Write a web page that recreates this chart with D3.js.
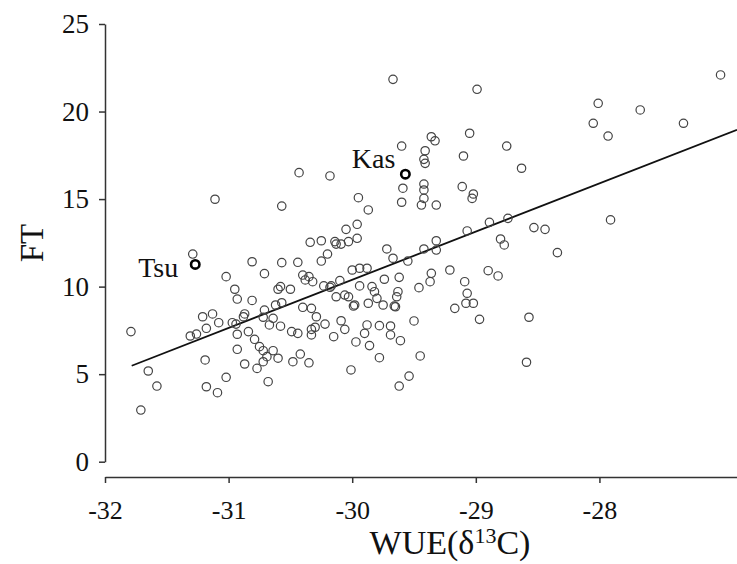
<!DOCTYPE html>
<html><head><meta charset="utf-8">
<script src="https://cdn.jsdelivr.net/npm/d3@7"></script>
<style>body{margin:0;background:#fff}svg{display:block}</style>
</head><body>
<svg id="c" width="737" height="564"></svg>
<script>
const wue = [-31.11,-30.57,-31.29,-30.81,-30.71,-31.02,-30.95,-30.57,-30.60,-30.93,-30.81,-30.62,-30.71,-31.21,-31.13,-31.08,-30.97,-30.87,-30.88,-30.94,-30.72,-30.64,-30.67,-30.58,-31.79,-31.31,-31.26,-31.18,-30.93,-30.84,-30.79,-30.75,-30.72,-30.64,-30.93,-30.69,-30.72,-30.60,-30.77,-30.87,-31.19,-31.65,-31.02,-31.58,-31.18,-31.09,-30.68,-31.71,
-29.95,-29.87,-29.59,-29.60,-29.42,-29.42,-29.42,-29.44,-29.32,-29.96,-30.05,-30.34,-30.25,-30.14,-30.13,-30.09,-30.03,-29.96,-30.44,-30.25,-30.20,-29.72,-29.67,-29.55,-29.42,-29.32,-29.32,-30.00,-29.94,-29.88,-30.40,-30.35,-30.38,-30.32,-30.10,-29.74,-29.62,-29.36,-29.37,-30.58,-30.50,-30.23,-30.18,-30.17,-29.94,-29.84,-29.82,-29.63,-29.46,-30.13,-30.06,-30.03,-29.80,-29.64,
-30.57,-30.40,-30.33,-29.99,-29.98,-29.87,-29.75,-29.66,-29.65,-30.29,-30.09,-30.49,-30.44,-30.33,-30.30,-30.33,-30.22,-30.15,-30.06,-29.88,-29.90,-29.78,-29.69,-29.69,-29.61,-29.50,-29.97,-29.86,-30.48,-30.42,-30.35,-29.78,-29.45,-30.01,-29.54,-29.62,
-29.67,-29.36,-29.33,-29.60,-29.41,-29.42,-29.41,-30.43,-30.18,
-28.99,-28.01,-28.05,-29.05,-29.10,-28.75,-28.63,
-29.11,-29.02,-29.03,-28.89,-28.74,-29.07,-28.53,-28.44,-28.80,-28.77,-28.34,-29.21,-28.90,-28.82,-29.09,-29.07,
-29.17,-29.08,-29.02,-28.97,-28.57,-28.59,
-27.02,-27.67,-27.32,-27.93,-27.91];
const ft = [14.99,14.60,11.86,11.42,10.74,10.57,9.85,11.37,9.85,9.29,9.21,8.95,8.66,8.28,8.44,7.94,7.94,8.44,8.28,7.86,8.25,8.19,7.81,7.74,7.43,7.18,7.29,7.62,7.28,7.43,6.99,6.57,6.34,6.34,6.42,6.00,5.71,5.91,5.33,5.58,5.81,5.18,4.82,4.32,4.28,3.94,4.57,2.95,
15.08,14.38,15.62,14.82,15.86,15.52,15.04,14.66,14.66,13.56,13.27,12.53,12.62,12.57,12.43,12.43,12.57,12.76,11.39,11.46,11.86,12.15,11.62,11.46,12.15,12.62,12.09,10.95,11.05,11.05,10.66,10.57,10.38,10.28,10.34,10.42,10.53,10.76,10.28,10.00,9.85,10.04,9.96,10.04,10.04,10.00,9.71,9.71,9.94,9.42,9.52,9.42,9.33,9.42,
9.08,8.82,8.76,8.89,8.95,9.05,8.95,8.89,8.85,8.28,8.05,7.43,7.33,7.56,7.68,7.24,7.86,7.14,7.56,7.81,7.33,7.77,7.75,7.24,6.91,8.04,6.84,6.63,5.71,6.15,5.65,5.94,6.04,5.24,4.89,4.32,
21.84,18.56,18.33,18.03,17.76,17.27,17.04,16.51,16.32,
21.27,20.47,19.33,18.76,17.46,18.03,16.76,
15.71,15.29,15.04,13.67,13.90,13.18,13.37,13.27,12.72,12.38,11.94,10.95,10.91,10.61,10.28,9.62,
8.76,9.05,9.05,8.13,8.25,5.68,
22.09,20.09,19.33,18.60,13.81];
const labelNames = ["Tsu","Kas"];
const labelWue = [-31.27,-29.57];
const labelFt = [11.27,16.42];
const fitSlope = 2.751, fitIntercept = 92.92;
const fitFrom = [-31.784, -26.887];
const xTicks = [-32,-31,-30,-29,-28];
const yTicks = [0,5,10,15,20,25];

const svg = d3.select("#c");
const x = d3.scaleLinear().domain([-32,-26.887]).range([105,737]);
const y = d3.scaleLinear().domain([0,25]).range([461.7,24]);
const font = "'Liberation Serif','Times New Roman',serif";

// y axis
const ya = svg.append("g").attr("transform","translate(105,0)")
  .call(d3.axisLeft(y).tickValues(yTicks).tickSize(6).tickPadding(10).tickSizeOuter(0));
ya.selectAll("text").attr("font-family",font).attr("font-size",27).attr("fill","#111");
// x axis
const xa = svg.append("g").attr("transform","translate(0,477)")
  .call(d3.axisBottom(x).tickValues(xTicks).tickSize(6).tickPadding(18).tickSizeOuter(0).tickFormat(d => String(d)));
xa.selectAll("text").attr("font-family",font).attr("font-size",26).attr("fill","#111");
svg.selectAll(".domain, .tick line").attr("stroke","#333").attr("stroke-width",1.5);

// fit line
svg.append("line")
  .attr("x1",x(fitFrom[0])).attr("y1",y(fitIntercept+fitSlope*fitFrom[0]))
  .attr("x2",x(fitFrom[1])).attr("y2",y(fitIntercept+fitSlope*fitFrom[1]))
  .attr("stroke","#111").attr("stroke-width",1.8);

// points
svg.append("g").selectAll("circle").data(wue.map((v,i)=>[v,ft[i]])).join("circle")
  .attr("cx",d=>x(d[0])).attr("cy",d=>y(d[1])).attr("r",4.2)
  .attr("fill","none").attr("stroke","#444").attr("stroke-width",1.2);

// labelled points (label offsets in px)
const labelDx = [-17,-10], labelDy = [13,-6];
labelNames.forEach((n,i)=>{
  svg.append("circle").attr("cx",x(labelWue[i])).attr("cy",y(labelFt[i])).attr("r",4.2)
    .attr("fill","none").attr("stroke","#000").attr("stroke-width",2.6);
  svg.append("text").attr("x",x(labelWue[i])+labelDx[i]).attr("y",y(labelFt[i])+labelDy[i])
    .attr("text-anchor","end").attr("font-family",font).attr("font-size",28).attr("fill","#111").text(n);
});

// titles
svg.append("text").attr("transform","translate(43,243) rotate(-90)").attr("text-anchor","middle")
  .attr("font-family",font).attr("font-size",33).attr("fill","#111").text("FT");
const t = svg.append("text").attr("x",450).attr("y",554).attr("text-anchor","middle")
  .attr("font-family",font).attr("font-size",34).attr("fill","#111");
t.append("tspan").text("WUE(δ");
t.append("tspan").attr("font-size",22).attr("dy",-11).text("13");
t.append("tspan").attr("dy",11).text("C)");
</script>
</body></html>
